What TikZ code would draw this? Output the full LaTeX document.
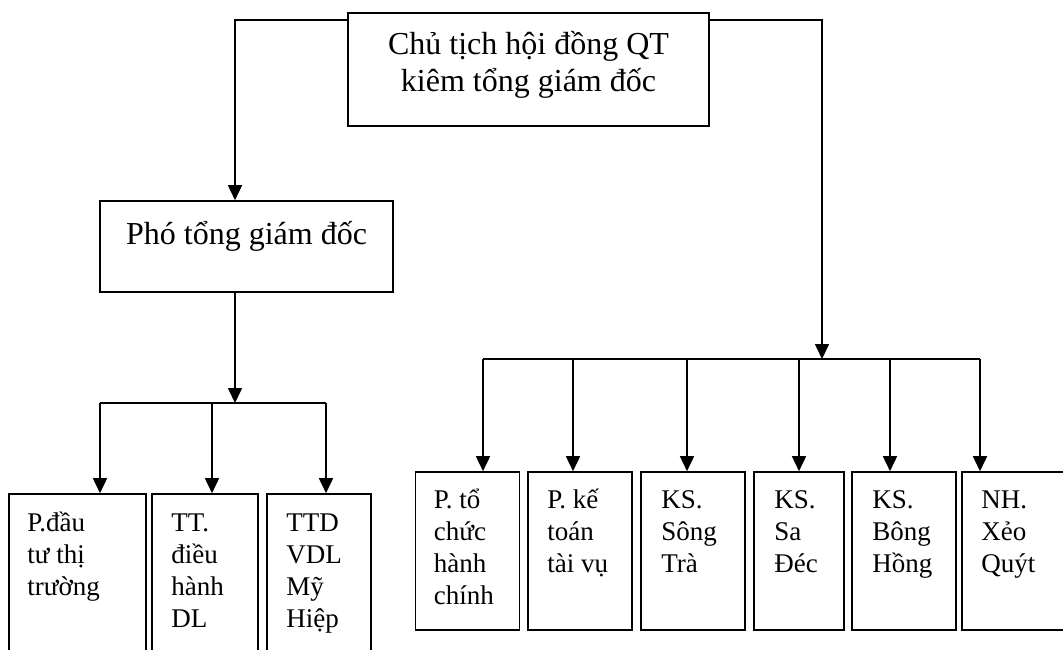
\documentclass[tikz,border=0pt]{standalone}
\usepackage{fontspec}
\setmainfont{Liberation Serif}
\usetikzlibrary{positioning,arrows.meta}

\newcommand\firstln{\rule{0pt}{1em}}

\tikzset{
    box/.style={draw, rectangle, inner sep=0pt, line width=1.6pt},
    unitbox/.style={box, minimum width=104pt, minimum height=158pt},
    link/.style={line width=1.6pt},
    arr/.style={line width=1.6pt, -{Triangle[length=15pt,width=14pt]}},
    bigtxt/.style={inner sep=0pt, align=center, font=\fontsize{32}{37}\selectfont},
    smalltxt/.style={inner sep=0pt, align=left, font=\fontsize{27}{32}\selectfont},
}

\begin{document}
\begin{tikzpicture}[x=1pt, y=-1pt]
        \useasboundingbox (0, 0) rectangle (1063, 649);

        % Chu tich / Pho tong giam doc
        \node[box, minimum width=361pt, minimum height=113pt] (chair) at (528.5, 69.5) {};
        \node[bigtxt, below=10pt of chair.north] (chairtxt) {\firstln Chủ tịch hội đồng QT\\kiêm tổng giám đốc};
        \node[box, minimum width=293pt, minimum height=91pt] (vice) at (246.5, 246.5) {};
        \node[bigtxt, below=12pt of vice.north] (vicetxt) {\firstln Phó tổng giám đốc};

        % left branch
        \node[box, minimum width=137pt, minimum height=166pt] (u1) at (77.5, 577) {};
        \node[box, minimum width=106pt, minimum height=166pt] (u2) at (205, 577) {};
        \node[box, minimum width=104pt, minimum height=166pt] (u3) at (319, 577) {};
        \node[smalltxt, below right=11pt and 19pt of u1.north west] (u1txt) {\firstln P.đầu\\tư thị\\trường};
        \node[smalltxt, below right=11pt and 20pt of u2.north west] (u2txt) {\firstln TT.\\điều\\hành\\DL};
        \node[smalltxt, below right=11pt and 20pt of u3.north west] (u3txt) {\firstln TTD\\VDL\\Mỹ\\Hiệp};

        % right branch
        \node[unitbox] (r1) at (467.5, 551) {};
        \node[unitbox] (r2) at (580, 551) {};
        \node[unitbox] (r3) at (693, 551) {};
        \node[unitbox, minimum width=90pt] (r4) at (799, 551) {};
        \node[unitbox] (r5) at (904, 551) {};
        \node[unitbox] (r6) at (1014, 551) {};
        \node[smalltxt, below right=10pt and 19pt of r1.north west] (r1txt) {\firstln P. tổ\\chức\\hành\\chính};
        \node[smalltxt, below right=10pt and 20pt of r2.north west] (r2txt) {\firstln P. kế\\toán\\tài vụ};
        \node[smalltxt, below right=10pt and 21pt of r3.north west] (r3txt) {\firstln KS.\\Sông\\Trà};
        \node[smalltxt, below right=10pt and 21pt of r4.north west] (r4txt) {\firstln KS.\\Sa\\Đéc};
        \node[smalltxt, below right=10pt and 21pt of r5.north west] (r5txt) {\firstln KS.\\Bông\\Hồng};
        \node[smalltxt, below right=10pt and 20pt of r6.north west] (r6txt) {\firstln NH.\\Xẻo\\Quýt};

        % bars
        \coordinate (lin) at (235, 403);
        \coordinate (lt1) at (100, 403);
        \coordinate (lt2) at (212, 403);
        \coordinate (lt3) at (326, 403);
        \coordinate (rin) at (822, 359);
        \coordinate (rt1) at (483, 359);
        \coordinate (rt2) at (573, 359);
        \coordinate (rt3) at (687, 359);
        \coordinate (rt4) at (799, 359);
        \coordinate (rt5) at (890, 359);
        \coordinate (rt6) at (980, 359);

        \draw[arr] ([yshift=-8pt]chair.north west) -| ([xshift=-11.5pt]vice.north);
        \draw[arr] ([yshift=-8pt]chair.north east) -| (rin);
        \draw[arr] ([xshift=-11.5pt]vice.south) -- (lin);

        \draw[link] (lt1) -- (lt3);
        \draw[arr] (lt1) -- (lt1 |- u1.north);
        \draw[arr] (lt2) -- (lt2 |- u2.north);
        \draw[arr] (lt3) -- (lt3 |- u3.north);

        \draw[link] (rt1) -- (rt6);
        \draw[arr] (rt1) -- (rt1 |- r1.north);
        \draw[arr] (rt2) -- (rt2 |- r2.north);
        \draw[arr] (rt3) -- (rt3 |- r3.north);
        \draw[arr] (rt4) -- (rt4 |- r4.north);
        \draw[arr] (rt5) -- (rt5 |- r5.north);
        \draw[arr] (rt6) -- (rt6 |- r6.north);

    \end{tikzpicture}
\end{document}
